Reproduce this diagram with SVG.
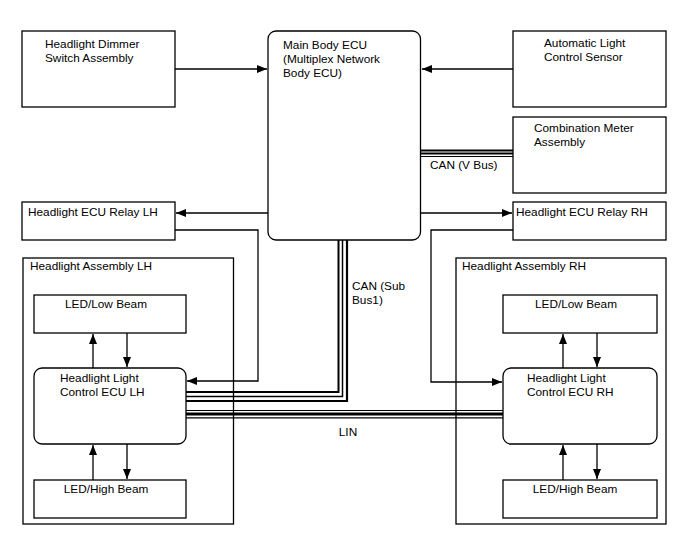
<svg xmlns="http://www.w3.org/2000/svg" width="688" height="560" viewBox="0 0 688 560">
<style>
.b{fill:#fff;stroke:#000;stroke-width:1.3}
.t{font-family:"Liberation Sans",Arial,sans-serif;font-size:11.8px;fill:#000}
.c{fill:none;stroke:#000;stroke-width:1.3}
.m{text-anchor:middle}
</style>
<defs>
<marker id="ah" viewBox="0 0 10 8" refX="10" refY="4" markerWidth="10" markerHeight="8" markerUnits="userSpaceOnUse" orient="auto">
<path d="M0,0 L10,4 L0,8 Z" fill="#000"/>
</marker>
</defs>
<rect width="688" height="560" fill="#fff"/>
<g id="asm-lh"><rect class="b" x="23" y="258" width="210.5" height="266"/><text class="t" x="30" y="270">Headlight Assembly LH</text></g>
<g id="asm-rh"><rect class="b" x="456" y="258" width="210" height="266"/><text class="t" x="462" y="270">Headlight Assembly RH</text></g>
<g id="dimmer"><rect class="b" x="22" y="31" width="153" height="76"/><text class="t" x="45" y="48">Headlight Dimmer</text><text class="t" x="45" y="62">Switch Assembly</text></g>
<g id="main-ecu"><rect class="b" x="268" y="31" width="152.5" height="209" rx="8"/><text class="t" x="283" y="49">Main Body ECU</text><text class="t" x="283" y="63">(Multiplex Network</text><text class="t" x="283" y="77">Body ECU)</text></g>
<g id="auto-sensor"><rect class="b" x="513" y="31" width="153" height="76"/><text class="t" x="544" y="47">Automatic Light</text><text class="t" x="544" y="61">Control Sensor</text></g>
<g id="meter"><rect class="b" x="513" y="117" width="153" height="76"/><text class="t" x="534" y="132">Combination Meter</text><text class="t" x="534" y="146">Assembly</text></g>
<g id="relay-lh"><rect class="b" x="22" y="202" width="153" height="38"/><text class="t" x="28" y="216">Headlight ECU Relay LH</text></g>
<g id="relay-rh"><rect class="b" x="513" y="202" width="153" height="38"/><text class="t" x="516" y="216">Headlight ECU Relay RH</text></g>
<g id="low-lh"><rect class="b" x="34" y="295" width="152" height="38"/><text class="t m" x="106" y="308">LED/Low Beam</text></g>
<g id="ecu-lh"><rect class="b" x="34" y="368" width="152" height="76" rx="8"/><text class="t" x="60" y="382">Headlight Light</text><text class="t" x="60" y="396">Control ECU LH</text></g>
<g id="high-lh"><rect class="b" x="34" y="480" width="152" height="38"/><text class="t m" x="106" y="493">LED/High Beam</text></g>
<g id="low-rh"><rect class="b" x="503" y="295" width="154" height="38"/><text class="t m" x="576" y="308">LED/Low Beam</text></g>
<g id="ecu-rh"><rect class="b" x="503" y="368" width="154" height="76" rx="8"/><text class="t" x="527" y="382">Headlight Light</text><text class="t" x="527" y="396">Control ECU RH</text></g>
<g id="high-rh"><rect class="b" x="503" y="480" width="154" height="38"/><text class="t m" x="575" y="493">LED/High Beam</text></g>
<g id="connectors">
<path class="c" d="M175,69 H267" marker-end="url(#ah)"/>
<path class="c" d="M513,69 H422" marker-end="url(#ah)"/>
<path class="c" d="M268,213 H176" marker-end="url(#ah)"/>
<path class="c" d="M421,213 H512" marker-end="url(#ah)"/>
<path class="c" d="M175,230 H258 V381 H187" marker-end="url(#ah)"/>
<path class="c" d="M513,230 H431 V382 H502" marker-end="url(#ah)"/>
<path class="c" d="M93,368 V334" marker-end="url(#ah)"/>
<path class="c" d="M127,333 V367" marker-end="url(#ah)"/>
<path class="c" d="M93,480 V445" marker-end="url(#ah)"/>
<path class="c" d="M127,444 V479" marker-end="url(#ah)"/>
<path class="c" d="M563,368 V334" marker-end="url(#ah)"/>
<path class="c" d="M597,333 V367" marker-end="url(#ah)"/>
<path class="c" d="M563,480 V445" marker-end="url(#ah)"/>
<path class="c" d="M597,444 V479" marker-end="url(#ah)"/>
<g id="can-v">
<path fill="none" stroke="#000" stroke-width="2" d="M421,150.5 H513"/>
<path fill="none" stroke="#000" stroke-width="2" d="M421,153.5 H513"/>
<path fill="none" stroke="#000" stroke-width="1.2" d="M421,156.5 H513"/>
</g>
<g id="can-sub">
<path fill="none" stroke="#000" stroke-width="2" d="M338.5,240 V392 H186"/>
<path fill="none" stroke="#000" stroke-width="1.5" d="M342.5,240 V396.5 H186"/>
<path fill="none" stroke="#000" stroke-width="2.2" d="M347,240 V401 H186"/>
</g>
<g id="lin">
<path fill="none" stroke="#000" stroke-width="1.2" d="M186,410.5 H503"/>
<path fill="none" stroke="#000" stroke-width="3.2" d="M186,414 H503"/>
<path fill="none" stroke="#000" stroke-width="1.2" d="M186,417.8 H503"/>
</g>
</g>
<text class="t" x="430" y="169">CAN (V Bus)</text>
<text class="t" x="352" y="290">CAN (Sub</text>
<text class="t" x="352" y="304">Bus1)</text>
<text class="t m" x="348" y="436">LIN</text>
</svg>
